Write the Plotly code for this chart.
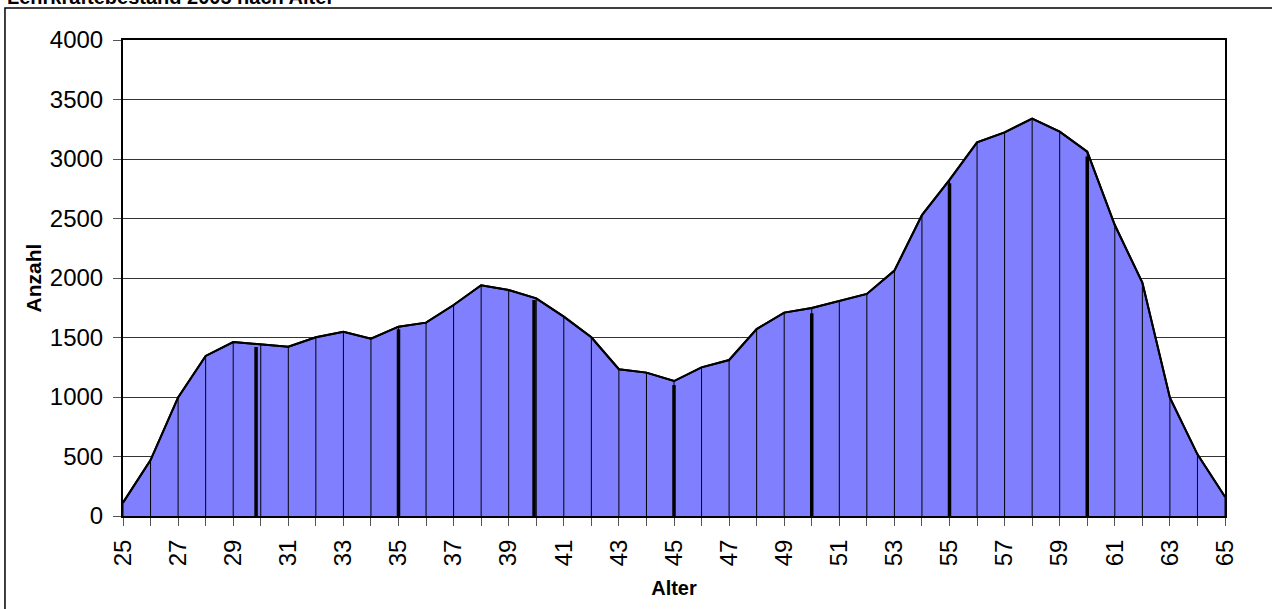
import plotly.graph_objects as go

# Data
ages = list(range(25, 66))
counts = [112, 470, 997, 1345, 1462, 1443, 1423, 1502, 1549, 1490,
          1591, 1625, 1773, 1939, 1899, 1829, 1675, 1502, 1233, 1205,
          1134, 1249, 1311, 1571, 1709, 1748, 1810, 1866, 2062, 2529,
          2824, 3140, 3224, 3339, 3230, 3062, 2445, 1961, 994, 518, 162]
mark_ages = [29.83, 35, 39.92, 45, 50, 55, 60]
mark_vals = [1420, 1569, 1815, 1100, 1703, 2796, 3020]
tick_labels = [str(a) for a in range(25, 66, 2)]

title_text = "Lehrkräftebestand 2005 nach Alter"
font_family = "Liberation Sans, Arial, sans-serif"

fig = go.Figure()

fig.add_trace(go.Scatter(
    x=ages, y=counts, mode="lines", fill="tozeroy",
    fillcolor="#8080FF", line=dict(color="black", width=2),
    hoverinfo="x+y", showlegend=False))

# thin drop lines
dx, dy = [], []
for a, v in zip(ages, counts):
    dx += [a, a, None]
    dy += [0, v, None]
fig.add_trace(go.Scatter(x=dx, y=dy, mode="lines",
                         line=dict(color="black", width=1),
                         hoverinfo="skip", showlegend=False))

# thick marker lines
mx, my = [], []
for a, v in zip(mark_ages, mark_vals):
    mx += [a, a, None]
    my += [0, v, None]
fig.add_trace(go.Scatter(x=mx, y=my, mode="lines",
                         line=dict(color="black", width=3.5),
                         hoverinfo="skip", showlegend=False))

# redraw outline on top
fig.add_trace(go.Scatter(x=ages, y=counts, mode="lines",
                         line=dict(color="black", width=2),
                         hoverinfo="skip", showlegend=False))

fig.update_layout(
    width=1272, height=609,
    margin=dict(l=123, r=47, t=40, b=93),
    paper_bgcolor="white", plot_bgcolor="white",
    font=dict(family=font_family, color="black"),
    showlegend=False,
    xaxis=dict(
        range=[25, 65], tickmode="array",
        tickvals=list(range(25, 66, 2)), ticktext=tick_labels,
        tickangle=-90, tickfont=dict(size=24),
        ticks="outside", ticklen=8, tickcolor="#555",
        ticklabelstandoff=4,
        minor=dict(dtick=1, tick0=25, ticks="outside", ticklen=8, tickcolor="#555", showgrid=False),
        showgrid=False, zeroline=False,
        showline=True, linecolor="black", linewidth=2, mirror=True,
        title=dict(text="<b>Alter</b>", font=dict(size=20), standoff=16),
    ),
    yaxis=dict(
        range=[0, 4000], tickmode="linear", tick0=0, dtick=500,
        tickfont=dict(size=24),
        ticks="outside", ticklen=8, tickcolor="#555",
        ticklabelstandoff=5,
        showgrid=True, gridcolor="#333", gridwidth=1,
        zeroline=False,
        showline=True, linecolor="black", linewidth=2, mirror=True,
        title=dict(text="<b>Anzahl</b>", font=dict(size=21), standoff=2),
    ),
    shapes=[dict(type="rect", xref="paper", yref="paper",
                 x0=-0.1071, x1=1.06, y0=-0.25, y1=1.0672,
                 line=dict(color="black", width=1.5), fillcolor="rgba(0,0,0,0)",
                 layer="below")],
    annotations=[dict(text="<b>" + title_text + "</b>", xref="paper", yref="paper",
                      x=-0.1071, y=1.063, xanchor="left", yanchor="bottom",
                      showarrow=False, font=dict(size=20))],
)

fig.write_html("out.html", config={"displayModeBar": False},
               post_script="document.body.style.margin='0';document.body.style.overflow='hidden';")
